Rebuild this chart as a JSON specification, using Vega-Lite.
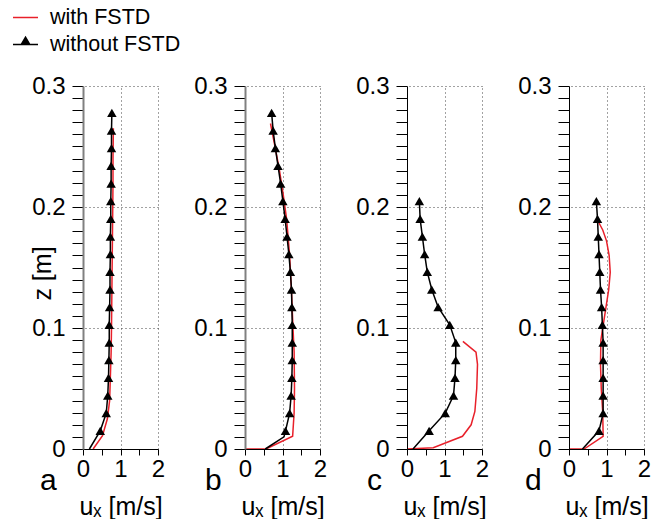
{
  "$schema": "https://vega.github.io/schema/vega-lite/v6.json",
  "autosize": {"type": "pad"},
  "padding": {"left": 12, "top": 4, "right": 5, "bottom": 0},
  "background": "white",
  "bounds": "flush",
  "spacing": 87,
  "data": {"values": [
    {"p":"a","s":"with FSTD","u":0.27,"z":0},{"p":"a","s":"with FSTD","u":0.52,"z":0.011},{"p":"a","s":"with FSTD","u":0.65,"z":0.025},{"p":"a","s":"with FSTD","u":0.71,"z":0.04},{"p":"a","s":"with FSTD","u":0.73,"z":0.06},{"p":"a","s":"with FSTD","u":0.75,"z":0.08},{"p":"a","s":"with FSTD","u":0.76,"z":0.10},{"p":"a","s":"with FSTD","u":0.77,"z":0.13},{"p":"a","s":"with FSTD","u":0.78,"z":0.16},{"p":"a","s":"with FSTD","u":0.79,"z":0.19},{"p":"a","s":"with FSTD","u":0.80,"z":0.22},{"p":"a","s":"with FSTD","u":0.80,"z":0.24},{"p":"a","s":"with FSTD","u":0.81,"z":0.265},
    {"p":"a","s":"without FSTD","u":0.17,"z":0},{"p":"a","s":"without FSTD","u":0.46,"z":0.015},{"p":"a","s":"without FSTD","u":0.62,"z":0.0296},{"p":"a","s":"without FSTD","u":0.66,"z":0.0442},{"p":"a","s":"without FSTD","u":0.68,"z":0.0588},{"p":"a","s":"without FSTD","u":0.69,"z":0.0734},{"p":"a","s":"without FSTD","u":0.70,"z":0.088},{"p":"a","s":"without FSTD","u":0.70,"z":0.1026},{"p":"a","s":"without FSTD","u":0.71,"z":0.1172},{"p":"a","s":"without FSTD","u":0.72,"z":0.1318},{"p":"a","s":"without FSTD","u":0.72,"z":0.1464},{"p":"a","s":"without FSTD","u":0.73,"z":0.161},{"p":"a","s":"without FSTD","u":0.73,"z":0.1756},{"p":"a","s":"without FSTD","u":0.74,"z":0.1902},{"p":"a","s":"without FSTD","u":0.74,"z":0.2048},{"p":"a","s":"without FSTD","u":0.75,"z":0.2194},{"p":"a","s":"without FSTD","u":0.75,"z":0.234},{"p":"a","s":"without FSTD","u":0.76,"z":0.2486},{"p":"a","s":"without FSTD","u":0.76,"z":0.2632},{"p":"a","s":"without FSTD","u":0.77,"z":0.2778},
    {"p":"b","s":"with FSTD","u":0,"z":0},{"p":"b","s":"with FSTD","u":0.56,"z":0},{"p":"b","s":"with FSTD","u":1.27,"z":0.0105},{"p":"b","s":"with FSTD","u":1.31,"z":0.03},{"p":"b","s":"with FSTD","u":1.32,"z":0.05},{"p":"b","s":"with FSTD","u":1.31,"z":0.08},{"p":"b","s":"with FSTD","u":1.28,"z":0.10},{"p":"b","s":"with FSTD","u":1.24,"z":0.13},{"p":"b","s":"with FSTD","u":1.19,"z":0.16},{"p":"b","s":"with FSTD","u":1.11,"z":0.19},{"p":"b","s":"with FSTD","u":1.02,"z":0.21},{"p":"b","s":"with FSTD","u":0.92,"z":0.23},{"p":"b","s":"with FSTD","u":0.80,"z":0.25},{"p":"b","s":"with FSTD","u":0.68,"z":0.269},
    {"p":"b","s":"without FSTD","u":0.54,"z":0},{"p":"b","s":"without FSTD","u":1.04,"z":0.01},{"p":"b","s":"without FSTD","u":1.08,"z":0.015},{"p":"b","s":"without FSTD","u":1.19,"z":0.0296},{"p":"b","s":"without FSTD","u":1.23,"z":0.0442},{"p":"b","s":"without FSTD","u":1.25,"z":0.0588},{"p":"b","s":"without FSTD","u":1.26,"z":0.0734},{"p":"b","s":"without FSTD","u":1.26,"z":0.088},{"p":"b","s":"without FSTD","u":1.26,"z":0.1026},{"p":"b","s":"without FSTD","u":1.25,"z":0.1172},{"p":"b","s":"without FSTD","u":1.24,"z":0.1318},{"p":"b","s":"without FSTD","u":1.21,"z":0.1464},{"p":"b","s":"without FSTD","u":1.17,"z":0.161},{"p":"b","s":"without FSTD","u":1.12,"z":0.1756},{"p":"b","s":"without FSTD","u":1.07,"z":0.1902},{"p":"b","s":"without FSTD","u":1.01,"z":0.2048},{"p":"b","s":"without FSTD","u":0.95,"z":0.2194},{"p":"b","s":"without FSTD","u":0.88,"z":0.234},{"p":"b","s":"without FSTD","u":0.81,"z":0.2486},{"p":"b","s":"without FSTD","u":0.75,"z":0.2632},{"p":"b","s":"without FSTD","u":0.71,"z":0.2778},
    {"p":"c","s":"with FSTD","u":0,"z":0},{"p":"c","s":"with FSTD","u":0.70,"z":0.001},{"p":"c","s":"with FSTD","u":1.48,"z":0.0105},{"p":"c","s":"with FSTD","u":1.71,"z":0.020},{"p":"c","s":"with FSTD","u":1.81,"z":0.031},{"p":"c","s":"with FSTD","u":1.86,"z":0.05},{"p":"c","s":"with FSTD","u":1.88,"z":0.07},{"p":"c","s":"with FSTD","u":1.84,"z":0.080},{"p":"c","s":"with FSTD","u":1.49,"z":0.089},
    {"p":"c","s":"without FSTD","u":0.16,"z":0},{"p":"c","s":"without FSTD","u":0.59,"z":0.015},{"p":"c","s":"without FSTD","u":1.02,"z":0.0296},{"p":"c","s":"without FSTD","u":1.24,"z":0.0442},{"p":"c","s":"without FSTD","u":1.28,"z":0.0588},{"p":"c","s":"without FSTD","u":1.30,"z":0.0734},{"p":"c","s":"without FSTD","u":1.30,"z":0.088},{"p":"c","s":"without FSTD","u":1.14,"z":0.1026},{"p":"c","s":"without FSTD","u":0.83,"z":0.1172},{"p":"c","s":"without FSTD","u":0.66,"z":0.1318},{"p":"c","s":"without FSTD","u":0.54,"z":0.1464},{"p":"c","s":"without FSTD","u":0.47,"z":0.161},{"p":"c","s":"without FSTD","u":0.41,"z":0.1756},{"p":"c","s":"without FSTD","u":0.35,"z":0.1902},{"p":"c","s":"without FSTD","u":0.33,"z":0.2048},
    {"p":"d","s":"with FSTD","u":0,"z":0},{"p":"d","s":"with FSTD","u":0.40,"z":0},{"p":"d","s":"with FSTD","u":0.91,"z":0.0105},{"p":"d","s":"with FSTD","u":0.90,"z":0.03},{"p":"d","s":"with FSTD","u":0.86,"z":0.05},{"p":"d","s":"with FSTD","u":0.84,"z":0.07},{"p":"d","s":"with FSTD","u":0.85,"z":0.09},{"p":"d","s":"with FSTD","u":0.91,"z":0.102},{"p":"d","s":"with FSTD","u":0.98,"z":0.116},{"p":"d","s":"with FSTD","u":1.06,"z":0.132},{"p":"d","s":"with FSTD","u":1.10,"z":0.146},{"p":"d","s":"with FSTD","u":1.07,"z":0.160},{"p":"d","s":"with FSTD","u":1.00,"z":0.172},{"p":"d","s":"with FSTD","u":0.90,"z":0.181},{"p":"d","s":"with FSTD","u":0.78,"z":0.188},
    {"p":"d","s":"without FSTD","u":0.36,"z":0},{"p":"d","s":"without FSTD","u":0.80,"z":0.015},{"p":"d","s":"without FSTD","u":0.91,"z":0.0296},{"p":"d","s":"without FSTD","u":0.91,"z":0.0442},{"p":"d","s":"without FSTD","u":0.91,"z":0.0588},{"p":"d","s":"without FSTD","u":0.91,"z":0.0734},{"p":"d","s":"without FSTD","u":0.91,"z":0.088},{"p":"d","s":"without FSTD","u":0.89,"z":0.1026},{"p":"d","s":"without FSTD","u":0.87,"z":0.1172},{"p":"d","s":"without FSTD","u":0.84,"z":0.1318},{"p":"d","s":"without FSTD","u":0.82,"z":0.1464},{"p":"d","s":"without FSTD","u":0.80,"z":0.161},{"p":"d","s":"without FSTD","u":0.78,"z":0.1756},{"p":"d","s":"without FSTD","u":0.76,"z":0.1902},{"p":"d","s":"without FSTD","u":0.73,"z":0.2048}
  ]},
  "hconcat": [
    {
      "width": 75, "height": 363,
      "title": {"text": "a", "orient": "bottom", "anchor": "start", "frame": "group", "dx": -43, "dy": -53, "offset": 0},
      "transform": [{"filter": "datum.p === 'a'"}],
      "resolve": {"axis": {"x": "independent", "y": "independent"}},
      "layer": [
        {"mark": {"type": "point", "opacity": 0},
         "encoding": {
           "x": {"field": "u", "type": "quantitative", "scale": {"domain": [0, 2], "nice": false, "zero": false}, "axis": {"orient": "top", "values": [1, 2], "grid": true, "gridColor": "#444444", "gridDash": [1, 3], "gridWidth": 1, "ticks": false, "labels": false, "domain": false, "title": null}},
           "y": {"field": "z", "type": "quantitative", "scale": {"domain": [0, 0.3], "nice": false}, "axis": {"orient": "right", "values": [0.1, 0.2, 0.3], "grid": true, "gridColor": "#444444", "gridDash": [1, 3], "gridWidth": 1, "ticks": false, "labels": false, "domain": false, "title": null}}}},
        {"encoding": {
          "x": {"field": "u", "type": "quantitative", "axis": {"orient": "bottom", "zindex": 1, "title": "uₓ [m/s]", "values": [0, 0.5, 1, 1.5, 2], "format": "~g", "labelExpr": "datum.value % 1 === 0 ? datum.label : ''", "grid": false, "ticks": true, "tickSize": 6, "tickWidth": 1, "tickOpacity": 1, "tickColor": "black", "labelPadding": 2, "titleY": 65, "titleBaseline": "alphabetic", "labelFontSize": 24, "titleFontSize": 25, "titleFontWeight": "normal", "labelColor": "black", "titleColor": "black", "domainColor": "black", "labelFlush": false, "labelOverlap": false, "labelBound": false}},
          "y": {"field": "z", "type": "quantitative", "axis": {"orient": "left", "zindex": 1, "title": "z [m]", "values": [0,0.01,0.02,0.03,0.04,0.05,0.06,0.07,0.08,0.09,0.1,0.11,0.12,0.13,0.14,0.15,0.16,0.17,0.18,0.19,0.2,0.21,0.22,0.23,0.24,0.25,0.26,0.27,0.28,0.29,0.3], "format": "~g", "labelExpr": "abs(datum.value*10 - round(datum.value*10)) < 0.001 ? datum.label : ''", "grid": false, "ticks": true, "tickSize": 11, "tickWidth": 1, "tickOpacity": 1, "tickColor": "black", "labelPadding": 7, "encode": {"ticks": {"update": {"x2": {"signal": "abs(datum.value*10 - round(datum.value*10)) < 0.001 ? -11 : -5"}}}}, "titleX": -41, "titleY": 187, "titleAngle": -90, "titleAlign": "center", "titleBaseline": "middle", "domainColor": "#808080", "domainWidth": 2, "labelFontSize": 24, "titleFontSize": 25, "titleFontWeight": "normal", "labelColor": "black", "titleColor": "black", "labelFlush": false, "labelOverlap": false, "labelBound": false}}},
         "layer": [
          {"mark": {"type": "line", "strokeWidth": 1.5},
           "encoding": {"color": {"field": "s", "type": "nominal", "scale": {"domain": ["with FSTD", "without FSTD"], "range": ["#e8202a", "black"]},
             "legend": {"title": null, "orient": "none", "legendX": -71, "legendY": -82, "symbolSize": 625, "labelFontSize": 21.5, "labelOffset": 11, "rowPadding": 3, "padding": 0,
               "encode": {"symbols": {"update": {
                 "shape": {"signal": "datum.value === 'without FSTD' ? 'M-1,0H1M0,-0.58L0.34,0L-0.34,0Z' : 'M-1,0H1'"},
                 "fill": {"signal": "datum.value === 'without FSTD' ? 'black' : 'transparent'"},
                 "stroke": {"signal": "datum.value === 'without FSTD' ? 'black' : '#e8202a'"},
                 "strokeWidth": {"value": 1.5}, "opacity": {"value": 1}}}}}},
             "order": {"value": null}}},
          {"transform": [{"filter": "datum.s === 'without FSTD' && datum.z > 0.012"}],
           "mark": {"type": "point", "shape": "triangle-up", "filled": true, "size": 90, "color": "black", "opacity": 1}}
         ]}
      ]
    },
    {
      "width": 75, "height": 363,
      "title": {"text": "b", "orient": "bottom", "anchor": "start", "frame": "group", "dx": -40, "dy": -53, "offset": 0},
      "transform": [{"filter": "datum.p === 'b'"}],
      "resolve": {"axis": {"x": "independent", "y": "independent"}},
      "layer": [
        {"mark": {"type": "point", "opacity": 0},
         "encoding": {
           "x": {"field": "u", "type": "quantitative", "scale": {"domain": [0, 2], "nice": false, "zero": false}, "axis": {"orient": "top", "values": [1, 2], "grid": true, "gridColor": "#444444", "gridDash": [1, 3], "gridWidth": 1, "ticks": false, "labels": false, "domain": false, "title": null}},
           "y": {"field": "z", "type": "quantitative", "scale": {"domain": [0, 0.3], "nice": false}, "axis": {"orient": "right", "values": [0.1, 0.2, 0.3], "grid": true, "gridColor": "#444444", "gridDash": [1, 3], "gridWidth": 1, "ticks": false, "labels": false, "domain": false, "title": null}}}},
        {"encoding": {
          "x": {"field": "u", "type": "quantitative", "axis": {"orient": "bottom", "zindex": 1, "title": "uₓ [m/s]", "values": [0, 0.5, 1, 1.5, 2], "format": "~g", "labelExpr": "datum.value % 1 === 0 ? datum.label : ''", "grid": false, "ticks": true, "tickSize": 6, "tickWidth": 1, "tickOpacity": 1, "tickColor": "black", "labelPadding": 2, "titleY": 65, "titleBaseline": "alphabetic", "labelFontSize": 24, "titleFontSize": 25, "titleFontWeight": "normal", "labelColor": "black", "titleColor": "black", "domainColor": "black", "labelFlush": false, "labelOverlap": false, "labelBound": false}},
          "y": {"field": "z", "type": "quantitative", "axis": {"orient": "left", "zindex": 1, "title": null, "values": [0,0.01,0.02,0.03,0.04,0.05,0.06,0.07,0.08,0.09,0.1,0.11,0.12,0.13,0.14,0.15,0.16,0.17,0.18,0.19,0.2,0.21,0.22,0.23,0.24,0.25,0.26,0.27,0.28,0.29,0.3], "format": "~g", "labelExpr": "abs(datum.value*10 - round(datum.value*10)) < 0.001 ? datum.label : ''", "grid": false, "ticks": true, "tickSize": 11, "tickWidth": 1, "tickOpacity": 1, "tickColor": "black", "labelPadding": 7, "encode": {"ticks": {"update": {"x2": {"signal": "abs(datum.value*10 - round(datum.value*10)) < 0.001 ? -11 : -5"}}}}, "domainColor": "#808080", "domainWidth": 2, "labelFontSize": 24, "labelColor": "black", "labelFlush": false, "labelOverlap": false, "labelBound": false}}},
         "layer": [
          {"mark": {"type": "line", "strokeWidth": 1.5},
           "encoding": {"color": {"field": "s", "type": "nominal", "scale": {"domain": ["with FSTD", "without FSTD"], "range": ["#e8202a", "black"]}, "legend": null},
             "order": {"value": null}}},
          {"transform": [{"filter": "datum.s === 'without FSTD' && datum.z > 0.012"}],
           "mark": {"type": "point", "shape": "triangle-up", "filled": true, "size": 90, "color": "black", "opacity": 1}}
         ]}
      ]
    },
    {
      "width": 75, "height": 363,
      "title": {"text": "c", "orient": "bottom", "anchor": "start", "frame": "group", "dx": -40, "dy": -53, "offset": 0},
      "transform": [{"filter": "datum.p === 'c'"}],
      "resolve": {"axis": {"x": "independent", "y": "independent"}},
      "layer": [
        {"mark": {"type": "point", "opacity": 0},
         "encoding": {
           "x": {"field": "u", "type": "quantitative", "scale": {"domain": [0, 2], "nice": false, "zero": false}, "axis": {"orient": "top", "values": [1, 2], "grid": true, "gridColor": "#444444", "gridDash": [1, 3], "gridWidth": 1, "ticks": false, "labels": false, "domain": false, "title": null}},
           "y": {"field": "z", "type": "quantitative", "scale": {"domain": [0, 0.3], "nice": false}, "axis": {"orient": "right", "values": [0.1, 0.2, 0.3], "grid": true, "gridColor": "#444444", "gridDash": [1, 3], "gridWidth": 1, "ticks": false, "labels": false, "domain": false, "title": null}}}},
        {"encoding": {
          "x": {"field": "u", "type": "quantitative", "axis": {"orient": "bottom", "zindex": 1, "title": "uₓ [m/s]", "values": [0, 0.5, 1, 1.5, 2], "format": "~g", "labelExpr": "datum.value % 1 === 0 ? datum.label : ''", "grid": false, "ticks": true, "tickSize": 6, "tickWidth": 1, "tickOpacity": 1, "tickColor": "black", "labelPadding": 2, "titleY": 65, "titleBaseline": "alphabetic", "labelFontSize": 24, "titleFontSize": 25, "titleFontWeight": "normal", "labelColor": "black", "titleColor": "black", "domainColor": "black", "labelFlush": false, "labelOverlap": false, "labelBound": false}},
          "y": {"field": "z", "type": "quantitative", "axis": {"orient": "left", "zindex": 1, "title": null, "values": [0,0.01,0.02,0.03,0.04,0.05,0.06,0.07,0.08,0.09,0.1,0.11,0.12,0.13,0.14,0.15,0.16,0.17,0.18,0.19,0.2,0.21,0.22,0.23,0.24,0.25,0.26,0.27,0.28,0.29,0.3], "format": "~g", "labelExpr": "abs(datum.value*10 - round(datum.value*10)) < 0.001 ? datum.label : ''", "grid": false, "ticks": true, "tickSize": 11, "tickWidth": 1, "tickOpacity": 1, "tickColor": "black", "labelPadding": 7, "encode": {"ticks": {"update": {"x2": {"signal": "abs(datum.value*10 - round(datum.value*10)) < 0.001 ? -11 : -5"}}}}, "domainColor": "black", "domainWidth": 1, "labelFontSize": 24, "labelColor": "black", "labelFlush": false, "labelOverlap": false, "labelBound": false}}},
         "layer": [
          {"mark": {"type": "line", "strokeWidth": 1.5},
           "encoding": {"color": {"field": "s", "type": "nominal", "scale": {"domain": ["with FSTD", "without FSTD"], "range": ["#e8202a", "black"]}, "legend": null},
             "order": {"value": null}}},
          {"transform": [{"filter": "datum.s === 'without FSTD' && datum.z > 0.012"}],
           "mark": {"type": "point", "shape": "triangle-up", "filled": true, "size": 90, "color": "black", "opacity": 1}}
         ]}
      ]
    },
    {
      "width": 75, "height": 363,
      "title": {"text": "d", "orient": "bottom", "anchor": "start", "frame": "group", "dx": -44, "dy": -53, "offset": 0},
      "transform": [{"filter": "datum.p === 'd'"}],
      "resolve": {"axis": {"x": "independent", "y": "independent"}},
      "layer": [
        {"mark": {"type": "point", "opacity": 0},
         "encoding": {
           "x": {"field": "u", "type": "quantitative", "scale": {"domain": [0, 2], "nice": false, "zero": false}, "axis": {"orient": "top", "values": [1, 2], "grid": true, "gridColor": "#444444", "gridDash": [1, 3], "gridWidth": 1, "ticks": false, "labels": false, "domain": false, "title": null}},
           "y": {"field": "z", "type": "quantitative", "scale": {"domain": [0, 0.3], "nice": false}, "axis": {"orient": "right", "values": [0.1, 0.2, 0.3], "grid": true, "gridColor": "#444444", "gridDash": [1, 3], "gridWidth": 1, "ticks": false, "labels": false, "domain": false, "title": null}}}},
        {"encoding": {
          "x": {"field": "u", "type": "quantitative", "axis": {"orient": "bottom", "zindex": 1, "title": "uₓ [m/s]", "values": [0, 0.5, 1, 1.5, 2], "format": "~g", "labelExpr": "datum.value % 1 === 0 ? datum.label : ''", "grid": false, "ticks": true, "tickSize": 6, "tickWidth": 1, "tickOpacity": 1, "tickColor": "black", "labelPadding": 2, "titleY": 65, "titleBaseline": "alphabetic", "labelFontSize": 24, "titleFontSize": 25, "titleFontWeight": "normal", "labelColor": "black", "titleColor": "black", "domainColor": "black", "labelFlush": false, "labelOverlap": false, "labelBound": false}},
          "y": {"field": "z", "type": "quantitative", "axis": {"orient": "left", "zindex": 1, "title": null, "values": [0,0.01,0.02,0.03,0.04,0.05,0.06,0.07,0.08,0.09,0.1,0.11,0.12,0.13,0.14,0.15,0.16,0.17,0.18,0.19,0.2,0.21,0.22,0.23,0.24,0.25,0.26,0.27,0.28,0.29,0.3], "format": "~g", "labelExpr": "abs(datum.value*10 - round(datum.value*10)) < 0.001 ? datum.label : ''", "grid": false, "ticks": true, "tickSize": 11, "tickWidth": 1, "tickOpacity": 1, "tickColor": "black", "labelPadding": 7, "encode": {"ticks": {"update": {"x2": {"signal": "abs(datum.value*10 - round(datum.value*10)) < 0.001 ? -11 : -5"}}}}, "domainColor": "black", "domainWidth": 1, "labelFontSize": 24, "labelColor": "black", "labelFlush": false, "labelOverlap": false, "labelBound": false}}},
         "layer": [
          {"mark": {"type": "line", "strokeWidth": 1.5},
           "encoding": {"color": {"field": "s", "type": "nominal", "scale": {"domain": ["with FSTD", "without FSTD"], "range": ["#e8202a", "black"]}, "legend": null},
             "order": {"value": null}}},
          {"transform": [{"filter": "datum.s === 'without FSTD' && datum.z > 0.012"}],
           "mark": {"type": "point", "shape": "triangle-up", "filled": true, "size": 90, "color": "black", "opacity": 1}}
         ]}
      ]
    }
  ],
  "config": {
    "font": "Liberation Sans",
    "view": {"stroke": null},
    "title": {"fontSize": 30, "fontWeight": "normal", "color": "black"},
    "legend": {"labelColor": "black", "labelFont": "Liberation Sans"}
  }
}
